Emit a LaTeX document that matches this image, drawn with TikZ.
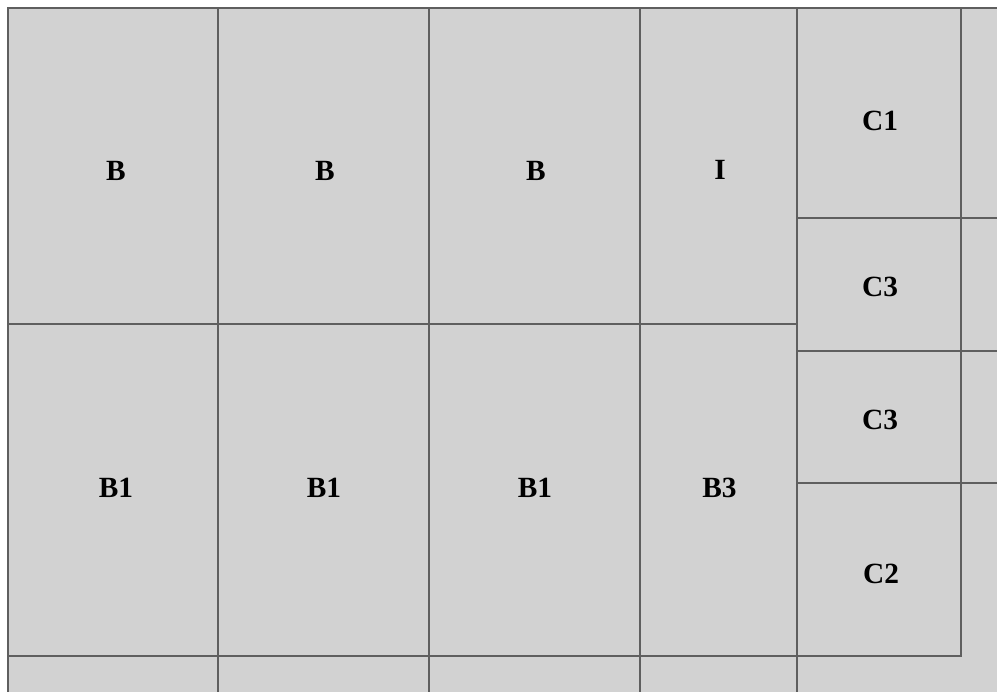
\documentclass[tikz,border=0pt]{standalone}
\usepackage{fontspec}
\setmainfont{Liberation Serif}
\usepackage{xcolor}
\usepackage{tikz}
\definecolor{cellfill}{RGB}{210,210,210}
\definecolor{cellline}{RGB}{95,95,95}

\begin{document}
\begin{tikzpicture}[
  x=0.75pt, y=-0.75pt,
  cell/.style={draw=cellline, line width=1.1pt},
  lbl/.style={font=\fontsize{22}{26}\selectfont\bfseries, inner sep=0pt, text=black},
]
\useasboundingbox (0,0) rectangle (997,692);
\fill[white] (0,0) rectangle (997,692);
\fill[cellfill] (8,8) rectangle (997,692);
\begin{scope}
\clip (0,0) rectangle (997,692);
% top row
\draw[cell] (8,8) rectangle (218,324);
\draw[cell] (218,8) rectangle (429,324);
\draw[cell] (429,8) rectangle (640,324);
\draw[cell] (640,8) rectangle (797,324);
% second row
\draw[cell] (8,324) rectangle (218,656);
\draw[cell] (218,324) rectangle (429,656);
\draw[cell] (429,324) rectangle (640,656);
\draw[cell] (640,324) rectangle (797,656);
% third row, cut off
\draw[cell] (8,656) rectangle (218,760);
\draw[cell] (218,656) rectangle (429,760);
\draw[cell] (429,656) rectangle (640,760);
\draw[cell] (640,656) rectangle (797,760);
% right column
\draw[cell] (797,8) rectangle (961,218);
\draw[cell] (797,218) rectangle (961,351);
\draw[cell] (797,351) rectangle (961,483);
\draw[cell] (797,483) rectangle (961,656);
% last column, cut off
\draw[cell] (961,8) rectangle (1060,218);
\draw[cell] (961,218) rectangle (1060,351);
\draw[cell] (961,351) rectangle (1060,483);
\end{scope}
\node[lbl] (b-a) at (116,170.5) {B};
\node[lbl] (b-b) at (325,170.5) {B};
\node[lbl] (b-c) at (536,170.5) {B};
\node[lbl] (i) at (720,170) {I};
\node[lbl] (b1-a) at (116,488) {B1};
\node[lbl] (b1-b) at (324,488) {B1};
\node[lbl] (b1-c) at (535,488) {B1};
\node[lbl] (b3) at (719.5,488) {B3};
\node[lbl] (c1) at (880,121) {C1};
\node[lbl] (c3-a) at (880,286.5) {C3};
\node[lbl] (c3-b) at (880,420) {C3};
\node[lbl] (c2) at (881,573.5) {C2};
\end{tikzpicture}
\end{document}
